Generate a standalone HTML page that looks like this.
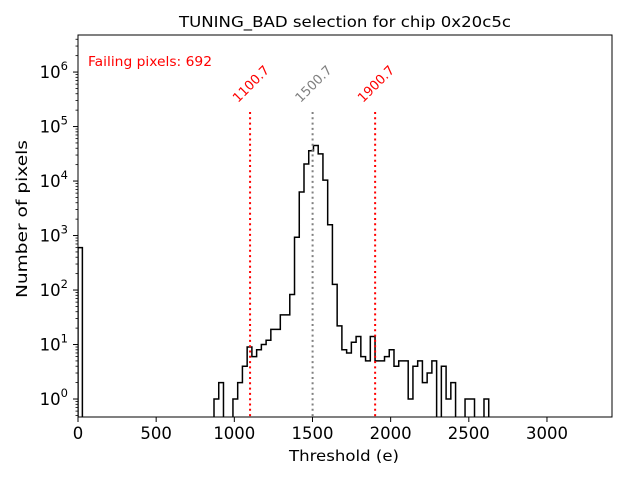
<!DOCTYPE html>
<html><head><meta charset="utf-8"><style>
body{margin:0;background:#fff}
svg{display:block;font-family:"DejaVu Sans","Liberation Sans",sans-serif}
</style></head><body>
<svg id="chart" width="640" height="480" viewBox="0 0 640 480">
<rect x="0" y="0" width="640" height="480" fill="#fff"/>
<text x="345" y="27" font-size="15.5" text-anchor="middle" textLength="332" lengthAdjust="spacingAndGlyphs">TUNING_BAD selection for chip 0x20c5c</text>
<text x="88" y="66" font-size="13" fill="red" textLength="124" lengthAdjust="spacingAndGlyphs">Failing pixels: 692</text>
<g id="plot"></g>
<text x="344" y="461" font-size="15.5" text-anchor="middle" textLength="110" lengthAdjust="spacingAndGlyphs">Threshold (e)</text>
<text transform="translate(27,219) rotate(-90)" font-size="15.5" text-anchor="middle" textLength="158" lengthAdjust="spacingAndGlyphs">Number of pixels</text>
</svg>
<script>
const binStart = 870;
const binWidth = 30.3;
const counts = [1,2,0,0,1,2,4,9,6,8,10,12,19,19,35,35,83,930,6300,20500,36000,45000,31500,10400,1580,127,22,8,7,11,14,6,5,14,5,5,6,8,4,5,5,1,4,5,2,3,5,0,4,1,2,0,0,1,1,0,0,1];
const zeroBinCount = 600;
const zeroBinWidth = 28;
const cutValues = [1100.7, 1500.7, 1900.7];
const cutLabels = ["1100.7","1500.7","1900.7"];
const cutColors = ["red","gray","red"];
const xTicks = [0,500,1000,1500,2000,2500,3000];
const yExps = [0,1,2,3,4,5,6];

const L=78,R=612,T=35,B=417;
const xMin=0,xMax=3416;
const X=v=>L+(v-xMin)/(xMax-xMin)*(R-L);
const logMin=-0.33,logMax=6.68;
const Y=c=>B-(Math.log10(c)-logMin)/(logMax-logMin)*(B-T);
const ns="http://www.w3.org/2000/svg";
const g=document.getElementById('plot');
function mk(t,a){const e=document.createElementNS(ns,t);for(const k in a)e.setAttribute(k,a[k]);g.appendChild(e);return e;}

const defs=mk('defs',{});
const cp=document.createElementNS(ns,'clipPath');cp.setAttribute('id','clip');
const cr=document.createElementNS(ns,'rect');cr.setAttribute('x',L);cr.setAttribute('y',T);cr.setAttribute('width',R-L);cr.setAttribute('height',B-T);
cp.appendChild(cr);defs.appendChild(cp);

const yb=B+5;
let d=`M${X(0)},${yb} L${X(0)},${Y(zeroBinCount)} L${X(zeroBinWidth)},${Y(zeroBinCount)} L${X(zeroBinWidth)},${yb}`;
d+=` M${X(binStart)},${yb}`;
counts.forEach((c,i)=>{const x0=X(binStart+i*binWidth),x1=X(binStart+(i+1)*binWidth);const y=c>0?Y(c):yb;d+=` L${x0},${y} L${x1},${y}`;});
d+=` L${X(binStart+counts.length*binWidth)},${yb}`;
const hp=mk('path',{d:d,fill:'none',stroke:'#000','stroke-width':1.5,'clip-path':'url(#clip)'});



cutValues.forEach((v,i)=>{
  const x=X(v);
  const ln=mk('line',{x1:x,y1:112,x2:x,y2:B,stroke:cutColors[i],'stroke-width':2,'stroke-dasharray':'2,3.3'});
  
  
  const t=mk('text',{transform:`translate(${x+4},${87}) rotate(-45)`,'font-size':13,fill:cutColors[i],'text-anchor':'middle'});
  t.textContent=cutLabels[i];
  
  
});

const fr=mk('rect',{x:L,y:T,width:R-L,height:B-T,fill:'none',stroke:'#000','stroke-width':1});



xTicks.forEach(v=>{
  const x=X(v);
  mk('line',{x1:x,y1:B,x2:x,y2:B+5,stroke:'#000'});
  const t=mk('text',{x:x,y:B+22,'font-size':16.5,'text-anchor':'middle'});
  t.textContent=v;
  
  
});
yExps.forEach(e=>{
  const y=Y(Math.pow(10,e));
  mk('line',{x1:L-5,y1:y,x2:L,y2:y,stroke:'#000'});
  const t=mk('text',{x:L-10,y:y+6,'font-size':16.5,'text-anchor':'end'});
  t.innerHTML='10<tspan dy="-8" font-size="11.5">'+e+'</tspan>';
  
  
});
for(let e=-1;e<=6;e++){for(let m=2;m<=9;m++){const v=m*Math.pow(10,e);const lv=Math.log10(v);if(lv<logMin||lv>logMax)continue;const y=Y(v);mk('line',{x1:L-2.5,y1:y,x2:L,y2:y,stroke:'#000','stroke-width':0.8});}}
</script>
</body></html>
